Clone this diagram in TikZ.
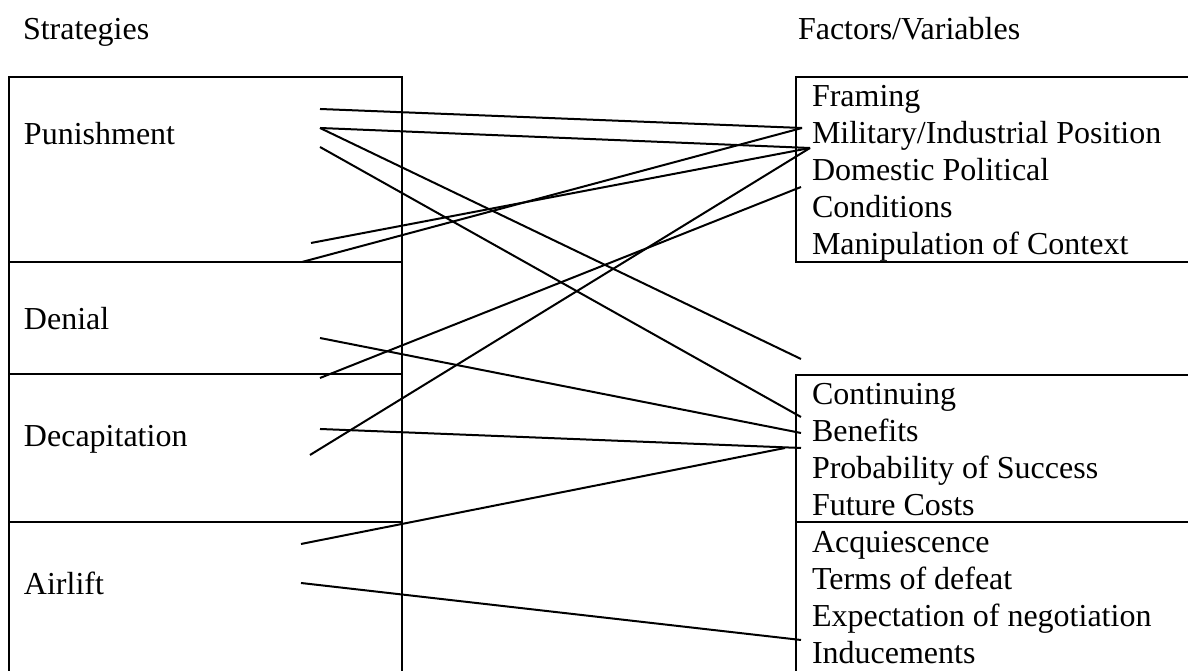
\documentclass[tikz,border=0pt]{standalone}
\usepackage{fontspec}
\setmainfont{Liberation Serif}
\begin{document}
\begin{tikzpicture}[x=0.375pt,y=-0.375pt,line width=0.75pt,
  lbl/.style={anchor=base west,inner sep=0pt,font=\fontsize{12}{14}\selectfont}]
  \useasboundingbox (0,0) rectangle (1188,671);
  \node[lbl] (strat) at (22,40) {Strategies};
  \node[lbl] (fact) at (797,40) {Factors/Variables};

  % strategies
  \draw (9,671) -- (9,77) -- (402,77) -- (402,671);
  \draw (9,262) -- (402,262);
  \draw (9,374) -- (402,374);
  \draw (9,522) -- (402,522);
  \node[lbl] (pun) at (23,145) {Punishment};
  \node[lbl] (den) at (23,330) {Denial};
  \node[lbl] (dec) at (23,447) {Decapitation};
  \node[lbl] (air) at (23,595) {Airlift};

  % factors
  \draw (1188,77) -- (796,77) -- (796,262) -- (1188,262);
  \draw (1188,375) -- (796,375) -- (796,671);
  \draw (796,522) -- (1188,522);
  \foreach \t [count=\i] in {Framing,{Military/Industrial Position},Domestic Political,Conditions,Manipulation of Context}
    \node[lbl] (fa\i) at (811,{107+37*(\i-1)}) {\t};
  \foreach \t [count=\i] in {Continuing,Benefits,Probability of Success,Future Costs,Acquiescence,Terms of defeat,Expectation of negotiation,Inducements}
    \node[lbl] (fb\i) at (811,{405+37*(\i-1)}) {\t};

  % line ends
  \coordinate (pa) at (320,109);
  \coordinate (pb) at (320,128);
  \coordinate (pc) at (320,147);
  \coordinate (pd) at (311,243);
  \coordinate (pe) at (302,262);
  \coordinate (da) at (320,338);
  \coordinate (db) at (320,378);
  \coordinate (ca) at (320,429);
  \coordinate (cb) at (310,455);
  \coordinate (aa) at (301,544);
  \coordinate (ab) at (301,583);
  \coordinate (mila) at (802,128);
  \coordinate (milb) at (810,148);
  \coordinate (dom) at (801,187);
  \coordinate (gap) at (801,359);
  \coordinate (cont) at (801,417);
  \coordinate (ben) at (801,433);
  \coordinate (proba) at (801,448);
  \coordinate (probb) at (785,448);
  \coordinate (ind) at (801,640);

  \draw (pa) -- (mila);
  \draw (pb) -- (milb);
  \draw (pb) -- (gap);
  \draw (pc) -- (cont);
  \draw (pd) -- (milb);
  \draw (pe) -- (mila);
  \draw (da) -- (ben);
  \draw (db) -- (dom);
  \draw (ca) -- (proba);
  \draw (cb) -- (milb);
  \draw (aa) -- (probb);
  \draw (ab) -- (ind);
\end{tikzpicture}
\end{document}
